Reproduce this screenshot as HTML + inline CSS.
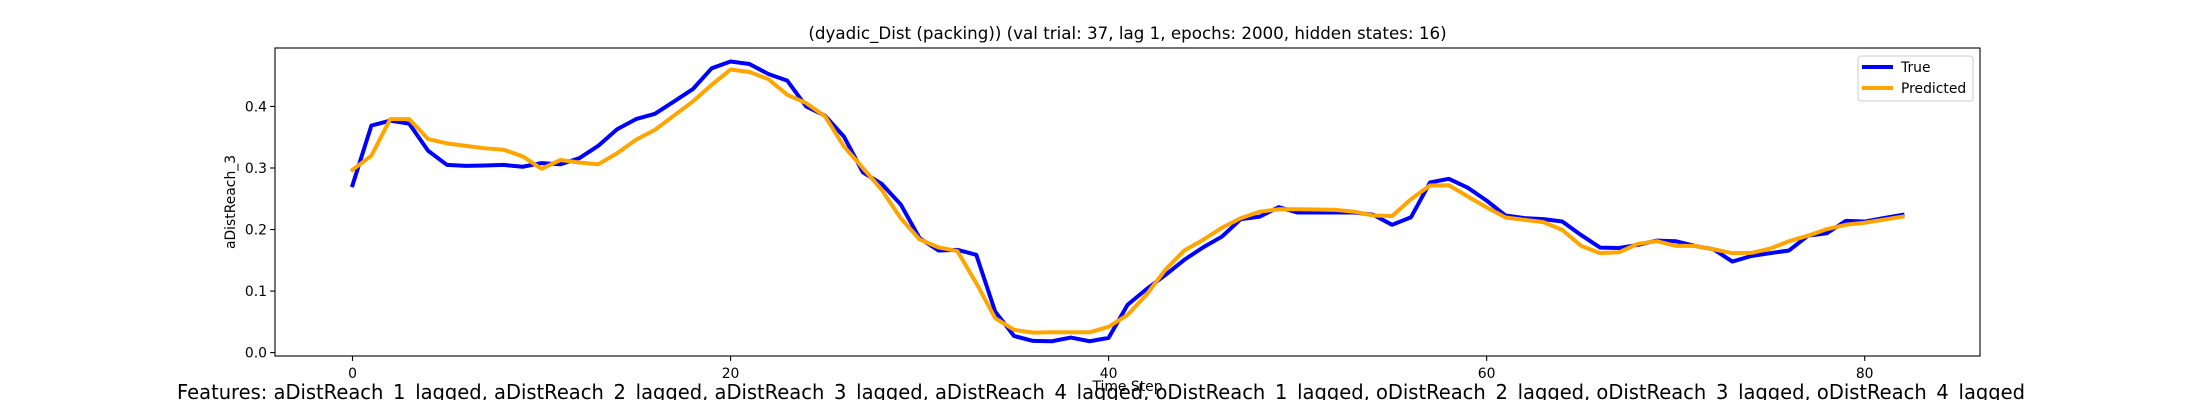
<!DOCTYPE html>
<html><head><meta charset="utf-8">
<style>
html,body{margin:0;padding:0;background:#fff;}
svg{display:block;font-family:"DejaVu Sans","Liberation Sans",sans-serif;}
</style></head>
<body>
<svg id="chart" width="2200" height="400" viewBox="0 0 2200 400" xmlns="http://www.w3.org/2000/svg">
  <rect x="0" y="0" width="2200" height="400" fill="#fff"/>
  <text x="1127.5" y="39" text-anchor="middle" font-size="16.7" fill="#000">(dyadic_Dist (packing)) (val trial: 37, lag 1, epochs: 2000, hidden states: 16)</text>
  <rect x="275" y="48" width="1705" height="308" fill="#fff"/>
  <g id="ticks"></g>
  <g id="series"></g>
  <rect x="275" y="48" width="1705" height="308" fill="none" stroke="#000" stroke-width="1.1"/>
  <text x="1127.5" y="391" text-anchor="middle" font-size="13.9" fill="#000">Time Step</text>
  <text transform="translate(235,202) rotate(-90)" text-anchor="middle" font-size="13.9" fill="#000">aDistReach_3</text>
  <g>
    <rect x="1858" y="56" width="115" height="45" rx="3" fill="#fff" fill-opacity="0.8" stroke="#ccc" stroke-width="1"/>
    <line x1="1862" y1="67" x2="1893" y2="67" stroke="#0000ff" stroke-width="4"/>
    <text x="1901" y="72" font-size="13.9" fill="#000">True</text>
    <line x1="1862" y1="88" x2="1893" y2="88" stroke="#ffa500" stroke-width="4"/>
    <text x="1901" y="93" font-size="13.9" fill="#000">Predicted</text>
  </g>
  <text x="1101" y="399" text-anchor="middle" font-size="20" textLength="1848" lengthAdjust="spacingAndGlyphs" fill="#000">Features: aDistReach_1_lagged, aDistReach_2_lagged, aDistReach_3_lagged, aDistReach_4_lagged, oDistReach_1_lagged, oDistReach_2_lagged, oDistReach_3_lagged, oDistReach_4_lagged</text>
</svg>
<script>
const trueValues = [0.272,0.369,0.377,0.372,0.328,0.305,0.3035,0.304,0.305,0.302,0.308,0.306,0.316,0.336,0.363,0.3795,0.388,0.408,0.428,0.462,0.473,0.469,0.4527,0.442,0.400,0.385,0.351,0.293,0.274,0.241,0.186,0.166,0.167,0.159,0.0667,0.027,0.019,0.0185,0.0245,0.0185,0.024,0.0776,0.103,0.126,0.1507,0.171,0.1886,0.217,0.221,0.2364,0.2276,0.2276,0.2276,0.2276,0.224,0.2077,0.220,0.2764,0.2824,0.268,0.247,0.2228,0.2185,0.217,0.213,0.191,0.1707,0.170,0.175,0.182,0.181,0.1735,0.168,0.148,0.157,0.1616,0.166,0.190,0.194,0.214,0.213,0.2185,0.224];
const predictedValues = [0.297,0.320,0.3795,0.3795,0.347,0.340,0.336,0.332,0.3296,0.319,0.2987,0.313,0.309,0.306,0.324,0.346,0.362,0.385,0.408,0.435,0.460,0.456,0.4445,0.419,0.4055,0.384,0.335,0.300,0.2645,0.2185,0.184,0.171,0.165,0.113,0.056,0.037,0.0325,0.033,0.033,0.033,0.042,0.0613,0.094,0.1345,0.166,0.1833,0.203,0.2185,0.229,0.233,0.233,0.2325,0.232,0.229,0.2228,0.222,0.2494,0.2715,0.272,0.2537,0.236,0.2195,0.2157,0.212,0.1995,0.1735,0.1616,0.163,0.1767,0.181,0.1735,0.1735,0.168,0.1616,0.162,0.169,0.181,0.190,0.2006,0.2077,0.211,0.216,0.221];
const xTickValues = [0,20,40,60,80];
const yTickValues = [0.0,0.1,0.2,0.3,0.4];
const yTickLabels = ["0.0","0.1","0.2","0.3","0.4"];

const NS = "http://www.w3.org/2000/svg";
const plotL = 275, plotR = 1980, plotT = 48, plotB = 356;
const xMin = -4.1, xMax = 86.1, yMin = -0.0055, yMax = 0.495;
function xScale(v){ return plotL + (v - xMin) / (xMax - xMin) * (plotR - plotL); }
function yScale(v){ return plotB - (v - yMin) / (yMax - yMin) * (plotB - plotT); }

const ticks = document.getElementById('ticks');
xTickValues.forEach(function(v){
  const x = xScale(v);
  const t = document.createElementNS(NS,'line');
  t.setAttribute('x1',x); t.setAttribute('x2',x); t.setAttribute('y1',plotB); t.setAttribute('y2',plotB+4.9);
  t.setAttribute('stroke','#000'); t.setAttribute('stroke-width','1.1');
  
  
  ticks.appendChild(t);
  const l = document.createElementNS(NS,'text');
  l.setAttribute('x',x); l.setAttribute('y',378); l.setAttribute('text-anchor','middle'); l.setAttribute('font-size','13.9');
  l.textContent = String(v);
  
  
  ticks.appendChild(l);
});
yTickValues.forEach(function(v,i){
  const y = yScale(v);
  const t = document.createElementNS(NS,'line');
  t.setAttribute('x1',plotL-4.9); t.setAttribute('x2',plotL); t.setAttribute('y1',y); t.setAttribute('y2',y);
  t.setAttribute('stroke','#000'); t.setAttribute('stroke-width','1.1');
  
  
  ticks.appendChild(t);
  const l = document.createElementNS(NS,'text');
  l.setAttribute('x',plotL-8); l.setAttribute('y',y+5); l.setAttribute('text-anchor','end'); l.setAttribute('font-size','13.9');
  l.textContent = yTickLabels[i];
  
  
  ticks.appendChild(l);
});

const series = document.getElementById('series');
function drawLine(vals, color, name){
  const pts = vals.map(function(v,i){ return xScale(i).toFixed(2)+','+yScale(v).toFixed(2); }).join(' ');
  const p = document.createElementNS(NS,'polyline');
  p.setAttribute('points',pts); p.setAttribute('fill','none'); p.setAttribute('stroke',color);
  p.setAttribute('stroke-width','4'); p.setAttribute('stroke-linejoin','round'); p.setAttribute('stroke-linecap','square');
  
  
  series.appendChild(p);
}
drawLine(trueValues,'#0000ff','true-series-line');
drawLine(predictedValues,'#ffa500','predicted-series-line');
</script>
</body></html>
